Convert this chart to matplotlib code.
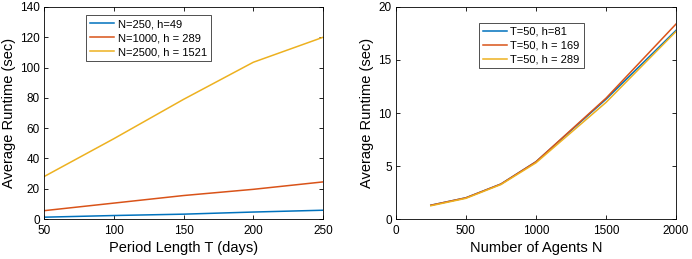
import matplotlib
matplotlib.use("Agg")
import matplotlib.pyplot as plt

# Left panel: runtime vs period length
period_T = [50, 100, 150, 200, 250]
rt_n250 = [1.2, 2.3, 3.2, 4.6, 5.8]
rt_n1000 = [5.5, 10.5, 15.5, 19.6, 24.5]
rt_n2500 = [28, 53, 79, 103.5, 120]
left_labels = ["N=250, h=49", "N=1000, h = 289", "N=2500, h = 1521"]

# Right panel: runtime vs number of agents
agents_N = [250, 500, 750, 1000, 1500, 2000]
rt_h81 = [1.3, 2.0, 3.3, 5.4, 11.3, 17.8]
rt_h169 = [1.3, 2.0, 3.3, 5.4, 11.4, 18.4]
rt_h289 = [1.25, 1.95, 3.25, 5.3, 11.0, 17.7]
right_labels = ["T=50, h=81", "T=50, h = 169", "T=50, h = 289"]

colors = ["#0072BD", "#D95319", "#EDB120"]

plt.rcParams["font.family"] = ["Liberation Sans", "DejaVu Sans"]

fig = plt.figure(figsize=(6.92, 2.59), dpi=100)
ax1 = fig.add_axes([0.0636, 0.1544, 0.4032, 0.8186])
ax2 = fig.add_axes([0.572, 0.1544, 0.405, 0.8186])


def style_axis(ax):
    ax.tick_params(direction="in", top=True, right=True, labelsize=8.5,
                   length=3, width=0.6)
    ax.tick_params(axis="x", pad=4)
    ax.tick_params(axis="y", pad=3)
    for sp in ax.spines.values():
        sp.set_linewidth(0.6)


def add_legend(ax, anchor):
    leg = ax.legend(loc="upper left", bbox_to_anchor=anchor, fontsize=8,
                    frameon=True, fancybox=False, edgecolor="black",
                    handlelength=2.2, handletextpad=0.3, borderpad=0.35,
                    labelspacing=0.35, borderaxespad=0)
    leg.get_frame().set_linewidth(0.6)


# left
for y, c, lab in zip([rt_n250, rt_n1000, rt_n2500], colors, left_labels):
    ax1.plot(period_T, y, color=c, lw=1.1, label=lab)
ax1.set_xlim(50, 250)
ax1.set_ylim(0, 140)
ax1.set_xticks([50, 100, 150, 200, 250])
ax1.set_yticks(range(0, 141, 20))
ax1.set_xlabel("Period Length T (days)", fontsize=10.5, labelpad=3)
ax1.set_ylabel("Average Runtime (sec)", fontsize=10.5, labelpad=3)
style_axis(ax1)
add_legend(ax1, (0.15, 0.96))

# right
for y, c, lab in zip([rt_h81, rt_h169, rt_h289], colors, right_labels):
    ax2.plot(agents_N, y, color=c, lw=1.1, label=lab)
ax2.set_xlim(0, 2000)
ax2.set_ylim(0, 20)
ax2.set_xticks([0, 500, 1000, 1500, 2000])
ax2.set_yticks([0, 5, 10, 15, 20])
ax2.set_xlabel("Number of Agents N", fontsize=10.5, labelpad=3)
ax2.set_ylabel("Average Runtime (sec)", fontsize=10.5, labelpad=3)
style_axis(ax2)
add_legend(ax2, (0.296, 0.925))

fig.savefig("out.png", dpi=100)
